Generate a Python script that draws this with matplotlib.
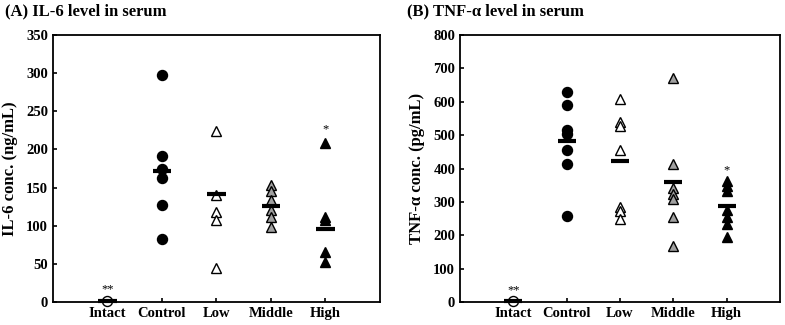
import matplotlib
matplotlib.use('Agg')
import matplotlib.pyplot as plt

plt.rcParams['font.family'] = ['Liberation Serif', 'DejaVu Serif']
plt.rcParams['font.weight'] = 'bold'
plt.rcParams['axes.labelweight'] = 'bold'

groups = ['Intact', 'Control', 'Low', 'Middle', 'High']

# (A) IL-6, ng/mL
il6_intact = [1]
il6_control = [298, 191, 174, 162, 127, 82]
il6_low = [224, 140, 118, 107, 44]
il6_middle = [153, 146, 134, 121, 112, 98]
il6_high = [208, 111, 107, 66, 53]
il6_mean = [1, 172, 142, 126, 96]
il6_stars = ['**', '', '', '', '*']
il6_star_y = [16, 0, 0, 0, 226]

# (B) TNF-alpha, pg/mL
tnf_intact = [2]
tnf_control = [630, 589, 515, 502, 457, 415, 258]
tnf_low = [609, 540, 528, 457, 284, 274, 250]
tnf_middle = [672, 414, 341, 323, 309, 256, 169]
tnf_high = [363, 348, 333, 276, 256, 234, 196]
tnf_mean = [2, 482, 424, 361, 288]
tnf_stars = ['**', '', '', '', '*']
tnf_star_y = [34, 0, 0, 0, 395]

styles = [
    dict(marker='o', mfc='white', mec='black'),
    dict(marker='o', mfc='black', mec='black'),
    dict(marker='^', mfc='white', mec='black'),
    dict(marker='^', mfc='#a0a0a0', mec='black'),
    dict(marker='^', mfc='black', mec='black'),
]


def panel(ax, series, means, stars, star_y, ymax, ystep, ylabel):
    for i, vals in enumerate(series):
        x = [i + 1] * len(vals)
        ax.plot(x, vals, ls='none', ms=7.2, mew=1.0, clip_on=False,
                zorder=3, **styles[i])
        ax.hlines(means[i], i + 1 - 0.17, i + 1 + 0.17, color='black',
                  lw=3, zorder=4, clip_on=False)
        if stars[i]:
            ax.text(i + 1, star_y[i], stars[i], ha='center', va='center',
                    fontsize=9, fontweight='normal')
    ax.set_xlim(0, 6)
    ax.set_ylim(0, ymax)
    ax.set_xticks(range(1, 6))
    ax.set_xticklabels(groups, fontsize=10.5, fontweight='bold')
    ax.set_yticks(range(0, ymax + 1, ystep))
    ax.set_yticklabels([str(v) for v in range(0, ymax + 1, ystep)],
                       fontsize=10.5, fontweight='bold')
    ax.tick_params(direction='in', length=3, width=1.2)
    ax.tick_params(axis='x', pad=4)
    for s in ax.spines.values():
        s.set_linewidth(1.3)
    ax.set_ylabel(ylabel, fontsize=12, fontweight='bold', labelpad=6)
    return ax


fig = plt.figure(figsize=(7.85, 3.25), dpi=100)
ax1 = fig.add_axes([0.0675, 0.071, 0.4165, 0.821])
ax2 = fig.add_axes([0.586, 0.071, 0.4076, 0.821])

panel(ax1, [il6_intact, il6_control, il6_low, il6_middle, il6_high],
      il6_mean, il6_stars, il6_star_y, 350, 50, 'IL-6 conc. (ng/mL)')
panel(ax2, [tnf_intact, tnf_control, tnf_low, tnf_middle, tnf_high],
      tnf_mean, tnf_stars, tnf_star_y, 800, 100, 'TNF-α conc. (pg/mL)')

fig.text(0.006, 0.965, '(A) IL-6 level in serum', fontsize=12,
         fontweight='bold', va='center')
fig.text(0.518, 0.965, '(B) TNF-α level in serum', fontsize=12,
         fontweight='bold', va='center')

fig.savefig('out.png', dpi=100)
